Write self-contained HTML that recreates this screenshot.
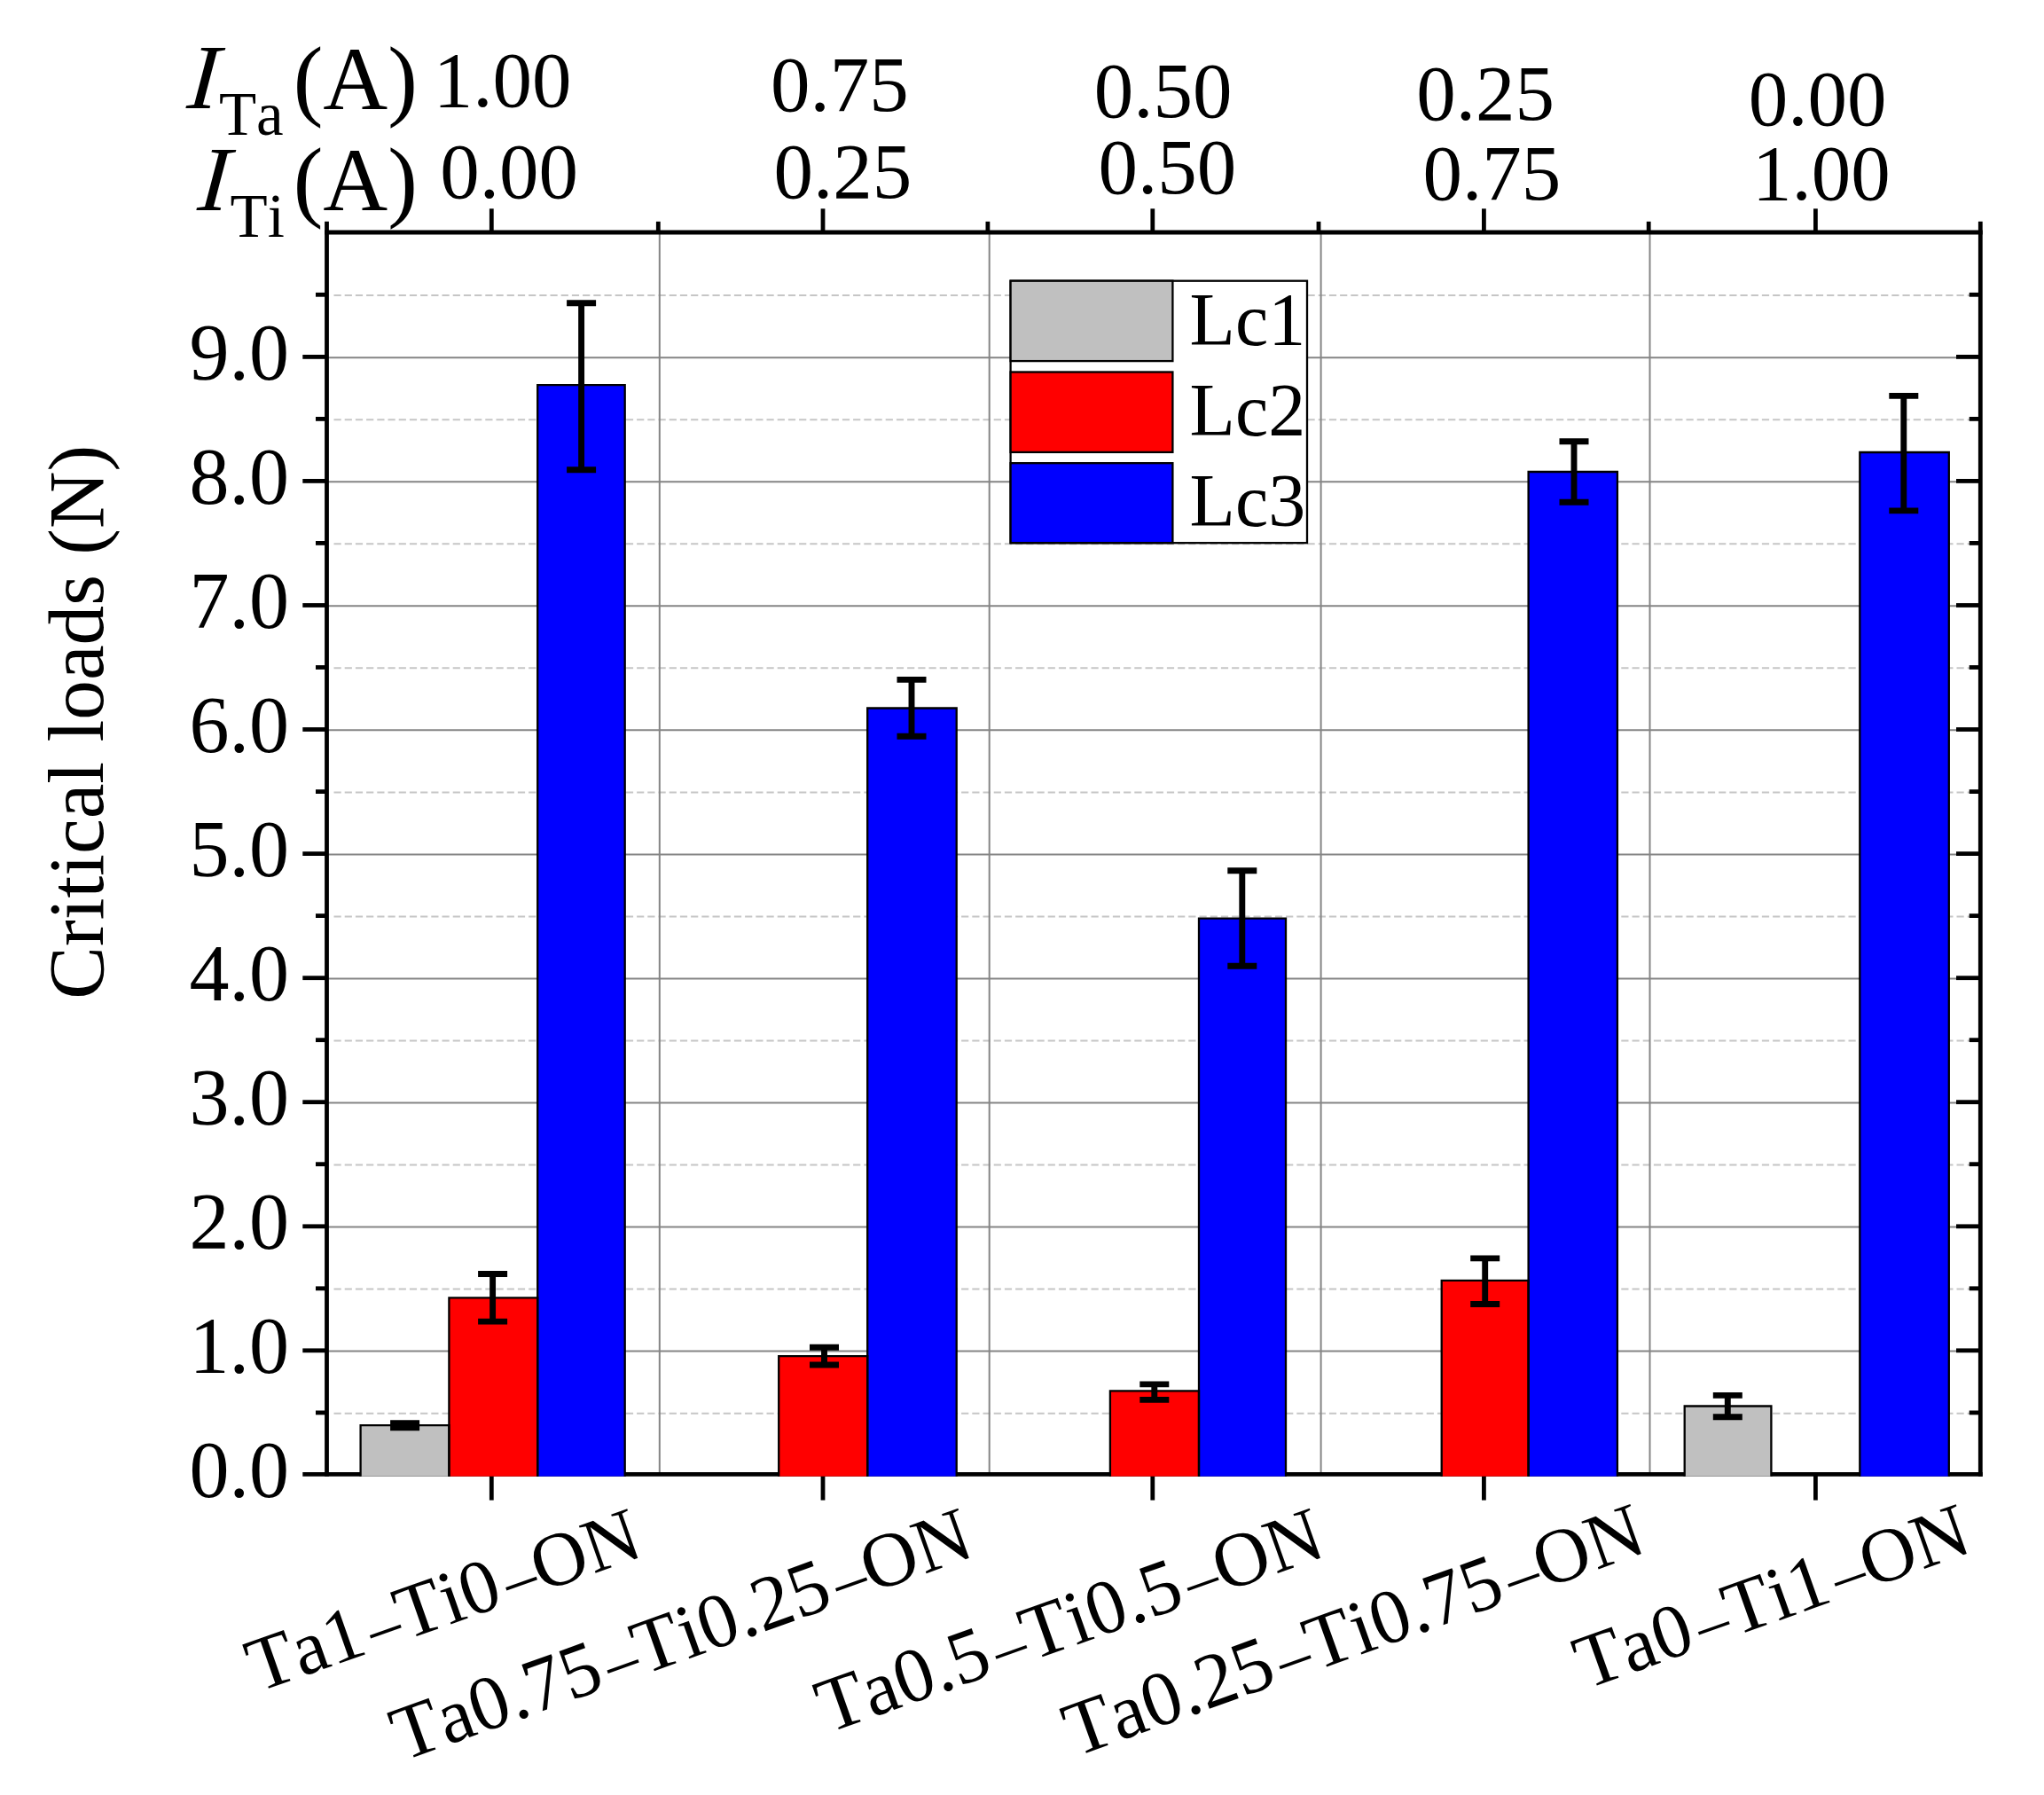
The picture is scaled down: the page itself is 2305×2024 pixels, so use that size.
<!DOCTYPE html>
<html lang="en"><head><meta charset="utf-8"><title>Critical loads</title>
<style>
html,body{margin:0;padding:0;background:#fff;}
body{width:2305px;height:2024px;overflow:hidden;}
svg{display:block;}
text{fill:#000;font-kerning:none;}
</style></head><body>
<svg width="2305" height="2024" viewBox="0 0 2305 2024">
<rect width="2305" height="2024" fill="#fff"/>
<g id="grid">
<line x1="376.5" x2="2233.3" y1="1593.7" y2="1593.7" stroke="#c6c6c6" stroke-width="2" stroke-dasharray="8.2 4"/>
<line x1="368.5" x2="2233.3" y1="1523.6" y2="1523.6" stroke="#858585" stroke-width="2"/>
<line x1="376.5" x2="2233.3" y1="1453.6" y2="1453.6" stroke="#c6c6c6" stroke-width="2" stroke-dasharray="8.2 4"/>
<line x1="368.5" x2="2233.3" y1="1383.6" y2="1383.6" stroke="#858585" stroke-width="2"/>
<line x1="376.5" x2="2233.3" y1="1313.6" y2="1313.6" stroke="#c6c6c6" stroke-width="2" stroke-dasharray="8.2 4"/>
<line x1="368.5" x2="2233.3" y1="1243.5" y2="1243.5" stroke="#858585" stroke-width="2"/>
<line x1="376.5" x2="2233.3" y1="1173.5" y2="1173.5" stroke="#c6c6c6" stroke-width="2" stroke-dasharray="8.2 4"/>
<line x1="368.5" x2="2233.3" y1="1103.5" y2="1103.5" stroke="#858585" stroke-width="2"/>
<line x1="376.5" x2="2233.3" y1="1033.4" y2="1033.4" stroke="#c6c6c6" stroke-width="2" stroke-dasharray="8.2 4"/>
<line x1="368.5" x2="2233.3" y1="963.4" y2="963.4" stroke="#858585" stroke-width="2"/>
<line x1="376.5" x2="2233.3" y1="893.4" y2="893.4" stroke="#c6c6c6" stroke-width="2" stroke-dasharray="8.2 4"/>
<line x1="368.5" x2="2233.3" y1="823.3" y2="823.3" stroke="#858585" stroke-width="2"/>
<line x1="376.5" x2="2233.3" y1="753.3" y2="753.3" stroke="#c6c6c6" stroke-width="2" stroke-dasharray="8.2 4"/>
<line x1="368.5" x2="2233.3" y1="683.3" y2="683.3" stroke="#858585" stroke-width="2"/>
<line x1="376.5" x2="2233.3" y1="613.2" y2="613.2" stroke="#c6c6c6" stroke-width="2" stroke-dasharray="8.2 4"/>
<line x1="368.5" x2="2233.3" y1="543.2" y2="543.2" stroke="#858585" stroke-width="2"/>
<line x1="376.5" x2="2233.3" y1="473.2" y2="473.2" stroke="#c6c6c6" stroke-width="2" stroke-dasharray="8.2 4"/>
<line x1="368.5" x2="2233.3" y1="403.2" y2="403.2" stroke="#858585" stroke-width="2"/>
<line x1="376.5" x2="2233.3" y1="333.1" y2="333.1" stroke="#c6c6c6" stroke-width="2" stroke-dasharray="8.2 4"/>
<line x1="743.8" x2="743.8" y1="262.0" y2="1662.4" stroke="#858585" stroke-width="2"/>
<line x1="1115.7" x2="1115.7" y1="262.0" y2="1662.4" stroke="#858585" stroke-width="2"/>
<line x1="1489.6" x2="1489.6" y1="262.0" y2="1662.4" stroke="#858585" stroke-width="2"/>
<line x1="1860.5" x2="1860.5" y1="262.0" y2="1662.4" stroke="#858585" stroke-width="2"/>
</g>
<g id="frame" stroke="#000" stroke-width="4.8" fill="none">
<line x1="368.5" x2="368.5" y1="249.8" y2="1664.8000000000002"/>
<line x1="2233.3" x2="2233.3" y1="249.8" y2="1664.8000000000002"/>
<line x1="366.1" x2="2235.7000000000003" y1="262.0" y2="262.0"/>
<line x1="341.3" x2="2235.7000000000003" y1="1662.4" y2="1662.4"/>
<line x1="356" x2="368.5" y1="1592.9" y2="1592.9"/>
<line x1="2220.7" x2="2233.3" y1="1592.9" y2="1592.9"/>
<line x1="341.3" x2="368.5" y1="1522.8" y2="1522.8"/>
<line x1="2206" x2="2233.3" y1="1522.8" y2="1522.8"/>
<line x1="356" x2="368.5" y1="1452.8" y2="1452.8"/>
<line x1="2220.7" x2="2233.3" y1="1452.8" y2="1452.8"/>
<line x1="341.3" x2="368.5" y1="1382.8" y2="1382.8"/>
<line x1="2206" x2="2233.3" y1="1382.8" y2="1382.8"/>
<line x1="356" x2="368.5" y1="1312.7" y2="1312.7"/>
<line x1="2220.7" x2="2233.3" y1="1312.7" y2="1312.7"/>
<line x1="341.3" x2="368.5" y1="1242.7" y2="1242.7"/>
<line x1="2206" x2="2233.3" y1="1242.7" y2="1242.7"/>
<line x1="356" x2="368.5" y1="1172.7" y2="1172.7"/>
<line x1="2220.7" x2="2233.3" y1="1172.7" y2="1172.7"/>
<line x1="341.3" x2="368.5" y1="1102.7" y2="1102.7"/>
<line x1="2206" x2="2233.3" y1="1102.7" y2="1102.7"/>
<line x1="356" x2="368.5" y1="1032.6" y2="1032.6"/>
<line x1="2220.7" x2="2233.3" y1="1032.6" y2="1032.6"/>
<line x1="341.3" x2="368.5" y1="962.6" y2="962.6"/>
<line x1="2206" x2="2233.3" y1="962.6" y2="962.6"/>
<line x1="356" x2="368.5" y1="892.6" y2="892.6"/>
<line x1="2220.7" x2="2233.3" y1="892.6" y2="892.6"/>
<line x1="341.3" x2="368.5" y1="822.5" y2="822.5"/>
<line x1="2206" x2="2233.3" y1="822.5" y2="822.5"/>
<line x1="356" x2="368.5" y1="752.5" y2="752.5"/>
<line x1="2220.7" x2="2233.3" y1="752.5" y2="752.5"/>
<line x1="341.3" x2="368.5" y1="682.5" y2="682.5"/>
<line x1="2206" x2="2233.3" y1="682.5" y2="682.5"/>
<line x1="356" x2="368.5" y1="612.4" y2="612.4"/>
<line x1="2220.7" x2="2233.3" y1="612.4" y2="612.4"/>
<line x1="341.3" x2="368.5" y1="542.4" y2="542.4"/>
<line x1="2206" x2="2233.3" y1="542.4" y2="542.4"/>
<line x1="356" x2="368.5" y1="472.4" y2="472.4"/>
<line x1="2220.7" x2="2233.3" y1="472.4" y2="472.4"/>
<line x1="341.3" x2="368.5" y1="402.4" y2="402.4"/>
<line x1="2206" x2="2233.3" y1="402.4" y2="402.4"/>
<line x1="356" x2="368.5" y1="332.3" y2="332.3"/>
<line x1="2220.7" x2="2233.3" y1="332.3" y2="332.3"/>
<line x1="554.3" x2="554.3" y1="235.3" y2="262.0"/>
<line x1="554.3" x2="554.3" y1="1662.4" y2="1691.6"/>
<line x1="928.0" x2="928.0" y1="235.3" y2="262.0"/>
<line x1="928.0" x2="928.0" y1="1662.4" y2="1691.6"/>
<line x1="1299.8" x2="1299.8" y1="235.3" y2="262.0"/>
<line x1="1299.8" x2="1299.8" y1="1662.4" y2="1691.6"/>
<line x1="1673.4" x2="1673.4" y1="235.3" y2="262.0"/>
<line x1="1673.4" x2="1673.4" y1="1662.4" y2="1691.6"/>
<line x1="2047.4" x2="2047.4" y1="235.3" y2="262.0"/>
<line x1="2047.4" x2="2047.4" y1="1662.4" y2="1691.6"/>
<line x1="742.3" x2="742.3" y1="249.8" y2="262.0"/>
<line x1="1113.9" x2="1113.9" y1="249.8" y2="262.0"/>
<line x1="1487.0" x2="1487.0" y1="249.8" y2="262.0"/>
<line x1="1859.2" x2="1859.2" y1="249.8" y2="262.0"/>
</g>
<g id="bars">
<rect x="406.6" y="1607.2" width="99.8" height="57.5" fill="#c0c0c0"/>
<rect x="506.4" y="1463.4" width="99.8" height="201.3" fill="#ff0000"/>
<rect x="606.2" y="434.1" width="98.5" height="1230.6" fill="#0000ff"/>
<rect x="878.2" y="1529.2" width="100.0" height="135.5" fill="#ff0000"/>
<rect x="978.2" y="798.5" width="100.5" height="866.2" fill="#0000ff"/>
<rect x="1251.9" y="1568.4" width="100.1" height="96.3" fill="#ff0000"/>
<rect x="1352.0" y="1035.6" width="98.0" height="629.1" fill="#0000ff"/>
<rect x="1625.7" y="1443.8" width="97.9" height="220.9" fill="#ff0000"/>
<rect x="1723.6" y="532.0" width="100.3" height="1132.7" fill="#0000ff"/>
<rect x="1899.7" y="1585.5" width="97.7" height="79.2" fill="#c0c0c0"/>
<rect x="2097.3" y="510.0" width="100.5" height="1154.7" fill="#0000ff"/>
<path d="M406.6 1664.7V1607.2H506.4V1664.7" fill="none" stroke="#000" stroke-width="2.3"/>
<path d="M506.4 1664.7V1463.4H606.2V1664.7" fill="none" stroke="#000" stroke-width="2.3"/>
<path d="M606.2 1664.7V434.1H704.7V1664.7" fill="none" stroke="#000" stroke-width="2.3"/>
<path d="M878.2 1664.7V1529.2H978.2V1664.7" fill="none" stroke="#000" stroke-width="2.3"/>
<path d="M978.2 1664.7V798.5H1078.7V1664.7" fill="none" stroke="#000" stroke-width="2.3"/>
<path d="M1251.9 1664.7V1568.4H1352.0V1664.7" fill="none" stroke="#000" stroke-width="2.3"/>
<path d="M1352.0 1664.7V1035.6H1450.0V1664.7" fill="none" stroke="#000" stroke-width="2.3"/>
<path d="M1625.7 1664.7V1443.8H1723.6V1664.7" fill="none" stroke="#000" stroke-width="2.3"/>
<path d="M1723.6 1664.7V532.0H1823.9V1664.7" fill="none" stroke="#000" stroke-width="2.3"/>
<path d="M1899.7 1664.7V1585.5H1997.4V1664.7" fill="none" stroke="#000" stroke-width="2.3"/>
<path d="M2097.3 1664.7V510.0H2197.8V1664.7" fill="none" stroke="#000" stroke-width="2.3"/>
</g>
<g id="err" stroke="#000" stroke-width="6.9" fill="none">
<path d="M440.1 1604.7H473.1M440.1 1609.8H473.1M456.6 1604.7V1609.8"/>
<path d="M539.1 1436.5H572.1M539.1 1490.1H572.1M555.6 1436.5V1490.1"/>
<path d="M639.1 341.7H672.1M639.1 529.7H672.1M655.6 341.7V529.7"/>
<path d="M913.0 1519.2H946.0M913.0 1539.0H946.0M929.5 1519.2V1539.0"/>
<path d="M1011.5 766.4H1044.5M1011.5 830.3H1044.5M1028.0 766.4V830.3"/>
<path d="M1285.3 1560.9H1318.3M1285.3 1578.4H1318.3M1301.8 1560.9V1578.4"/>
<path d="M1384.3 981.7H1417.3M1384.3 1089.3H1417.3M1400.8 981.7V1089.3"/>
<path d="M1658.2 1418.9H1691.2M1658.2 1470.5H1691.2M1674.7 1418.9V1470.5"/>
<path d="M1758.5 497.8H1791.5M1758.5 566.3H1791.5M1775.0 497.8V566.3"/>
<path d="M1931.8 1573.4H1964.8M1931.8 1597.7H1964.8M1948.3 1573.4V1597.7"/>
<path d="M2130.3 446.4H2163.3M2130.3 575.9H2163.3M2146.8 446.4V575.9"/>
</g>
<g id="legend">
<rect x="1139.6" y="316.7" width="334.4" height="295.5" fill="#fff" stroke="#000" stroke-width="2.3"/>
<rect x="1139.6" y="316.7" width="182.8" height="90.4" fill="#c0c0c0" stroke="#000" stroke-width="2.3"/>
<rect x="1139.6" y="419.5" width="182.8" height="90.4" fill="#ff0000" stroke="#000" stroke-width="2.3"/>
<rect x="1139.6" y="522.2" width="182.8" height="90.0" fill="#0000ff" stroke="#000" stroke-width="2.3"/>
<text x="1341.6" y="388.8" font-size="84" font-family="'Liberation Serif', serif">Lc1</text>
<text x="1341.6" y="490.6" font-size="84" font-family="'Liberation Serif', serif">Lc2</text>
<text x="1341.6" y="593.3" font-size="84" font-family="'Liberation Serif', serif">Lc3</text>
</g>
<g id="ylabels" font-size="90" font-family="'Liberation Serif', serif" text-anchor="end">
<text x="326.1" y="1688.2">0.0</text>
<text x="326.1" y="1548.1">1.0</text>
<text x="326.1" y="1408.1">2.0</text>
<text x="326.1" y="1268.0">3.0</text>
<text x="326.1" y="1128.0">4.0</text>
<text x="326.1" y="987.9">5.0</text>
<text x="326.1" y="847.8">6.0</text>
<text x="326.1" y="707.8">7.0</text>
<text x="326.1" y="567.7">8.0</text>
<text x="326.1" y="427.7">9.0</text>
</g>
<text transform="translate(116.4 814.2) rotate(-90)" text-anchor="middle" font-size="89.3" font-family="'Liberation Serif', serif">Critical loads (N)</text>
<g id="toplabels" font-size="89" font-family="'Liberation Serif', serif">
<text x="488.8" y="120.0">1.00</text>
<text x="496.2" y="223.0">0.00</text>
<text x="869.1" y="125.0">0.75</text>
<text x="872.5" y="223.0">0.25</text>
<text x="1233.7" y="131.5">0.50</text>
<text x="1238.6" y="217.5">0.50</text>
<text x="1597.3" y="134.5">0.25</text>
<text x="1604.6" y="224.7">0.75</text>
<text x="1971.8" y="141.3">0.00</text>
<text x="1976.1" y="224.7">1.00</text>
</g>
<g id="ilabels" font-family="'Liberation Serif', serif">
<text transform="translate(209.8 122.4) skewX(-5)" font-size="104" font-style="italic">I</text>
<text x="246.9" y="151.6" font-size="69">Ta</text>
<text x="330.7" y="123.2" font-size="101">(A)</text>
<text transform="translate(221.8 236.8) skewX(-5)" font-size="104" font-style="italic">I</text>
<text x="259.6" y="266.6" font-size="69">Ti</text>
<text x="330.7" y="236.9" font-size="101">(A)</text>
</g>
<g id="xlabels" font-family="'Liberation Serif', serif" text-anchor="end">
<text font-size="86.1" transform="translate(727.8 1753.8) rotate(-19.46)">Ta1<tspan font-size="71.5" dx="7.3">–</tspan>Ti0<tspan font-size="71.5" dx="7.3">–</tspan>ON</text>
<text font-size="87.2" transform="translate(1101.4 1753.7) rotate(-19.74)">Ta0.75<tspan font-size="72.4" dx="7.4">–</tspan>Ti0.25<tspan font-size="72.4" dx="7.4">–</tspan>ON</text>
<text font-size="87.0" transform="translate(1497.8 1753.8) rotate(-19.56)">Ta0.5<tspan font-size="72.2" dx="7.4">–</tspan>Ti0.5<tspan font-size="72.2" dx="7.4">–</tspan>ON</text>
<text font-size="87.2" transform="translate(1859.6 1749.1) rotate(-19.72)">Ta0.25<tspan font-size="72.4" dx="7.4">–</tspan>Ti0.75<tspan font-size="72.4" dx="7.4">–</tspan>ON</text>
<text font-size="86.4" transform="translate(2226.6 1748.8) rotate(-19.6)">Ta0<tspan font-size="71.7" dx="7.3">–</tspan>Ti1<tspan font-size="71.7" dx="7.3">–</tspan>ON</text>
</g>
</svg>
</body></html>
